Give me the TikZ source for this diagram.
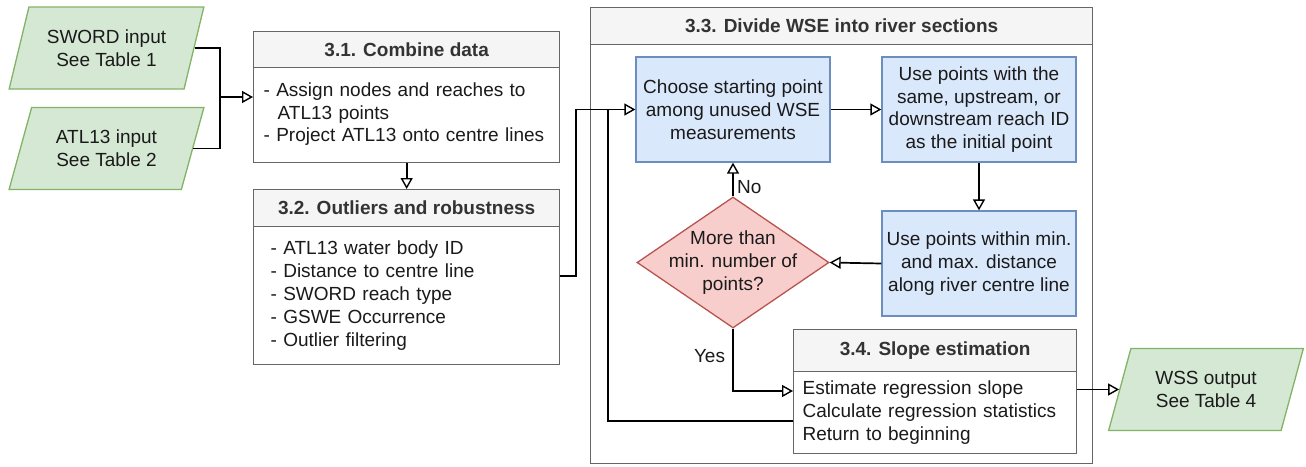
\documentclass[tikz,border=0pt]{standalone}
\usepackage{fontspec}
\setmainfont{Liberation Sans}
\usetikzlibrary{shapes.geometric,arrows.meta,calc}
\definecolor{gfill}{HTML}{D5E8D4}
\definecolor{gline}{HTML}{82B366}
\definecolor{bfill}{HTML}{DAE8FC}
\definecolor{bline}{HTML}{6C8EBF}
\definecolor{rfill}{HTML}{F8CECC}
\definecolor{rline}{HTML}{B85450}
\definecolor{hfill}{HTML}{F5F5F5}
\definecolor{hline}{HTML}{666666}
\definecolor{htext}{HTML}{333333}
\definecolor{btext}{HTML}{1A1A1A}
\begin{document}
\begin{tikzpicture}[x=1pt,y=-1pt,
  every node/.style={font=\fontsize{19}{22.8}\selectfont, text=btext},
  io/.style={trapezium, trapezium left angle=67.5, trapezium right angle=112.5,
    trapezium stretches=true, draw=gline, fill=gfill, line width=1.3pt,
    minimum width=195, minimum height=82, align=center, inner sep=0pt},
  hdr/.style={draw=hline, fill=hfill, line width=1.3pt, anchor=north west,
    inner sep=0pt, font=\fontsize{19}{22.8}\selectfont\bfseries, text=htext},
  body/.style={draw=hline, fill=white, line width=1.3pt, anchor=north west,
    align=left, inner ysep=0pt},
  proc/.style={draw=bline, fill=bfill, line width=1.3pt, minimum width=194,
    minimum height=105, align=center, inner sep=0pt},
  dec/.style={diamond, draw=rline, fill=rfill, line width=1.3pt, aspect=1.466,
    minimum width=192, minimum height=131, inner sep=0pt},
  cont/.style={draw=hline, line width=1.3pt, anchor=north west, inner sep=0pt},
  conn/.style={draw=black, line width=1.7pt},
  arr/.style={conn, -{Triangle[fill=white, length=11pt, width=12pt, line width=1.4pt]}}
]
\useasboundingbox (0,0) rectangle (1306,466);

% inputs
\node[io] (sword) at (106.5,48) {SWORD input\\See Table 1};
\node[io] (atl) at (106.5,148.5) {ATL13 input\\See Table 2};

% 3.1
\node[hdr, minimum width=306, minimum height=36] (h31) at (253,31) {3.1. Combine data};
\node[body, text width=286, inner xsep=10pt, minimum height=95] (b31) at (253,67)
  {- Assign nodes and reaches to\\\hspace*{14pt}ATL13 points\\- Project ATL13 onto centre lines\\[-16.8pt]\mbox{}};

% 3.2
\node[hdr, minimum width=306, minimum height=37] (h32) at (253,189) {3.2. Outliers and robustness};
\node[body, text width=272, inner xsep=17pt, minimum height=138] (b32) at (253,226)
  {- ATL13 water body ID\\- Distance to centre line\\- SWORD reach type\\- GSWE Occurrence\\- Outlier filtering};

% 3.3 container
\node[cont, minimum width=502, minimum height=456] (c33) at (590,7) {};
\node[hdr, minimum width=502, minimum height=37] (h33) at (590,7) {3.3. Divide WSE into river sections};

\node[proc] (p1) at (733,109.5) {Choose starting point\\among unused WSE\\measurements};
\node[proc] (p2) at (979,109.5) {Use points with the\\same, upstream, or\\downstream reach ID\\as the initial point};
\node[proc] (p3) at (979,263.5) {Use points within min.\\and max. distance\\along river centre line};
\node[dec, label={[align=center, font=\fontsize{19}{22.8}\selectfont, text=btext]center:More than\\min. number of\\points?}] (dia) at (733,262.5) {};

% 3.4
\node[hdr, minimum width=283, minimum height=42] (h34) at (793,329) {3.4. Slope estimation};
\node[body, text width=265, inner xsep=9pt, minimum height=82] (b34) at (793,371)
  {Estimate regression slope\\Calculate regression statistics\\Return to beginning};

% output
\node[io] (wss) at (1206,389.5) {WSS output\\See Table 4};

% connectors
\coordinate (j1) at (220,97);
\draw[conn] (sword.east) -| (j1);
\draw[conn] (atl.east) -| (j1);
\draw[arr] (j1) -- (j1 -| b31.west);
\draw[arr] (b31.south) -- (h32.north);

\coordinate (k1) at (576,276);
\draw[arr] (b32.east |- k1) -- (k1) |- (p1.west);
\draw[arr] (p1.east) -- (p2.west);
\draw[arr] (p2.south) -- (p3.north);
\draw[arr] (p3.west) -- (dia.east);
\draw[arr] (dia.north) -- (p1.south);
\node[anchor=west, inner sep=0pt] (no) at (737,187) {No};

\coordinate (y1) at (733,391);
\draw[arr] (dia.south) -- (y1) -- (y1 -| b34.west);
\node[inner sep=0pt] (yes) at (709.5,356) {Yes};

\coordinate (r1) at (608,421);
\draw[conn] (r1 -| b34.west) -- (r1) -- (r1 |- p1.west);

\draw[arr] (wss.west -| b34.east) -- (wss.west);
\end{tikzpicture}
\end{document}
